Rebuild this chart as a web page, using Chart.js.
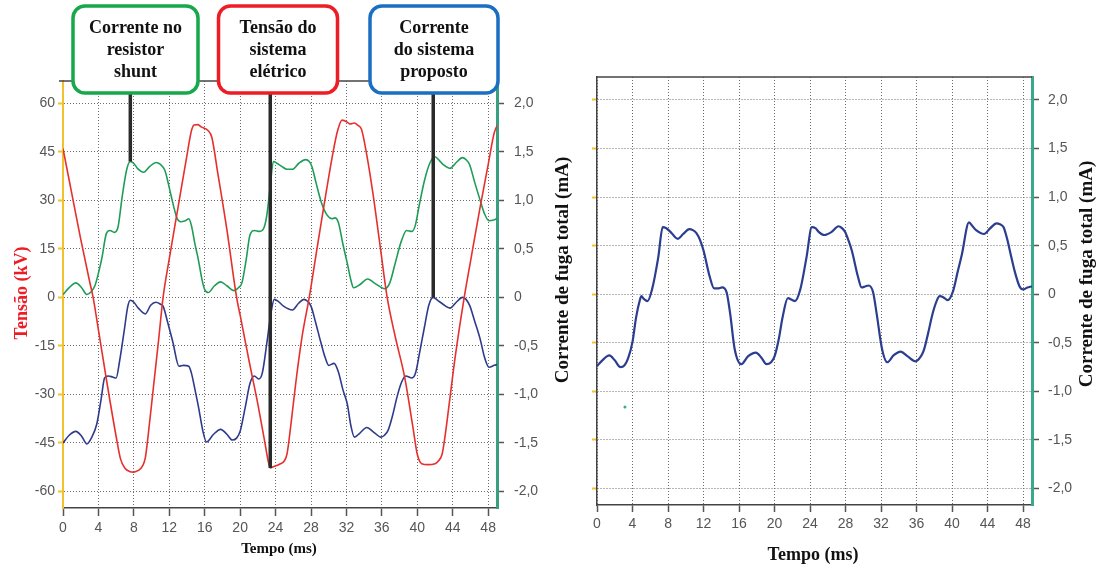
<!DOCTYPE html>
<html>
<head>
<meta charset="utf-8">
<script src="https://cdn.jsdelivr.net/npm/chart.js@4"></script>
<style>
  body { margin: 0; background: #fff; }
  #leftChart { position: absolute; left: 0; top: 0; }
  #rightChart { position: absolute; left: 575px; top: 0; }
</style>
</head>
<body>
<canvas id="leftChart" width="575" height="566"></canvas>
<canvas id="rightChart" width="530" height="566"></canvas>
<script>
// tick values
const timeTicks = [0, 4, 8, 12, 16, 20, 24, 28, 32, 36, 40, 44, 48];
const kvTicks = [-60, -45, -30, -15, 0, 15, 30, 45, 60];
const maTicks = [-2, -1.5, -1, -0.5, 0, 0.5, 1, 1.5, 2];

// Tensão do sistema elétrico (kV)
const tensaoT = [0,1,2,3,3.4,4,5,6,6.5,7,7.5,8,8.5,9,9.3,9.6,10.2,10.8,11.3,12,13,14,14.5,14.8,15.2,15.6,16.4,16.8,17.5,18.5,19.6,20,21,22,22.8,23.2,23.4,23.8,24.5,25,25.3,25.7,26.3,27,27.8,28.5,29.5,30.5,31,31.5,32.1,32.4,32.9,33.3,33.7,34.3,35,35.8,36.6,37.5,38.6,39.5,40,40.5,41.2,42,42.4,42.8,43.1,43.6,44.3,45.3,46,47.1,48,48.7,49.6];
const tensaoKV = [46,32,18,5,0,-10,-27,-43,-50,-52.8,-53.8,-54,-53.5,-52,-49.5,-43,-28,-13,0,12,28,44,51.5,53.3,53.4,52.7,51.5,49.5,38,21,0,-5.5,-19.5,-33,-45,-51,-52.7,-52.3,-51.5,-50.5,-48.3,-40,-26,-12,0,12,29,45,51.5,54.8,54.2,53.6,53.9,53.2,52,44,32,16,0,-12,-25,-40,-48.5,-51.4,-51.7,-51.4,-50.5,-48.5,-43.6,-33,-18,0,11,28,41,51,55.5];

// Corrente no resistor shunt (mA)
const shuntT = [0,0.7,1.45,2.1,2.7,3.2,3.6,4.0,4.4,4.9,5.3,5.8,6.2,6.7,7.2,7.6,8.0,8.4,9.1,9.8,10.5,11.0,11.5,11.9,12.2,12.9,13.3,13.8,14.2,14.5,14.9,15.3,15.7,16.0,16.4,17.1,17.8,18.5,19.3,19.8,20.2,20.7,21.1,21.6,22.2,22.7,23.0,23.4,23.75,24.2,24.7,25.3,25.9,26.6,27.4,27.8,28.1,28.6,29.2,29.8,30.4,30.7,31.1,31.6,32.1,32.5,32.8,33.5,34.4,35.3,36.3,36.9,37.5,38.2,38.8,39.4,39.8,40.2,40.8,41.4,42.0,42.5,42.9,43.7,44.4,45.1,45.5,45.9,46.5,47.1,47.6,48.1,48.7,49.2,49.6];
const shuntMA = [0.03,0.1,0.15,0.1,0.03,0.06,0.12,0.25,0.41,0.66,0.69,0.67,0.72,1.05,1.32,1.40,1.38,1.33,1.29,1.35,1.39,1.37,1.31,1.17,1.05,0.81,0.78,0.79,0.81,0.74,0.55,0.38,0.18,0.08,0.05,0.12,0.16,0.12,0.07,0.1,0.15,0.4,0.64,0.69,0.68,0.72,0.84,1.15,1.40,1.38,1.35,1.32,1.32,1.38,1.42,1.40,1.35,1.17,0.97,0.85,0.81,0.82,0.77,0.55,0.35,0.18,0.10,0.13,0.19,0.14,0.09,0.15,0.35,0.58,0.69,0.68,0.75,0.94,1.2,1.38,1.45,1.41,1.37,1.33,1.39,1.44,1.42,1.37,1.18,1.00,0.86,0.79,0.80,0.82,0.71];

// Corrente do sistema proposto (mA)
const propostoT = [0,0.7,1.45,2.1,2.7,3.2,3.8,4.3,4.7,5.1,5.6,6.0,6.4,6.9,7.3,7.6,8.0,8.5,9.3,9.9,10.5,11.0,11.3,11.8,12.4,13.1,13.6,14.2,14.5,14.9,15.3,15.8,16.2,17.0,17.8,18.5,19.1,19.6,20.0,20.6,21.1,21.6,22.1,22.5,23.0,23.5,23.85,24.3,24.9,25.9,26.6,27.2,27.6,28.0,28.5,29.1,29.6,30.0,30.6,31.1,31.6,32.1,32.5,32.9,33.5,34.3,35.1,35.9,36.3,36.7,37.2,37.7,38.2,38.7,39.4,39.8,40.3,40.8,41.3,41.8,42.3,42.9,43.7,44.4,45.1,45.5,45.9,46.5,47.1,47.6,48.1,48.7,49.2,49.6];
const propostoMA = [-1.5,-1.42,-1.38,-1.43,-1.51,-1.45,-1.31,-1.05,-0.83,-0.81,-0.82,-0.83,-0.65,-0.35,-0.1,-0.03,-0.05,-0.11,-0.17,-0.08,-0.05,-0.07,-0.09,-0.25,-0.46,-0.71,-0.70,-0.71,-0.78,-0.95,-1.13,-1.38,-1.49,-1.41,-1.36,-1.41,-1.47,-1.45,-1.38,-1.12,-0.89,-0.81,-0.84,-0.78,-0.48,-0.15,-0.02,-0.04,-0.09,-0.13,-0.06,-0.02,-0.04,-0.09,-0.25,-0.46,-0.62,-0.70,-0.68,-0.77,-0.95,-1.1,-1.32,-1.44,-1.4,-1.34,-1.39,-1.44,-1.42,-1.37,-1.22,-1.03,-0.88,-0.81,-0.83,-0.78,-0.55,-0.31,-0.08,0.0,-0.03,-0.07,-0.11,-0.05,0.0,-0.02,-0.08,-0.25,-0.43,-0.62,-0.72,-0.7,-0.69,-0.80];

// Corrente de fuga total, right chart (mA)
const totalT = [0,0.6,1.4,2.0,2.65,3.1,3.5,4.0,4.4,4.8,5.0,5.3,5.7,6.2,6.9,7.4,7.8,8.3,9.1,9.7,10.4,10.8,11.2,11.6,12.0,12.7,13.2,13.6,14.1,14.6,15.0,15.5,16.25,17.0,17.9,18.5,19.1,19.6,20.0,20.5,20.9,21.5,22.0,22.3,22.9,23.6,24.2,24.6,25.0,25.6,26.4,27.2,27.6,27.95,28.3,28.7,29.4,29.8,30.2,30.6,31.1,31.5,32.1,32.7,33.4,34.2,35.0,35.9,36.4,36.8,37.3,37.8,38.3,38.6,39.0,39.5,40.1,40.6,41.1,41.9,42.3,42.7,43.6,44.3,45.0,45.4,45.8,46.2,46.6,47.1,47.6,48.0,48.5,49.0,49.4,49.6];
const totalMA = [-0.74,-0.68,-0.63,-0.68,-0.75,-0.73,-0.66,-0.49,-0.24,-0.07,-0.02,-0.05,-0.07,0.05,0.38,0.69,0.68,0.64,0.57,0.62,0.67,0.66,0.63,0.56,0.45,0.18,0.06,0.06,0.07,0.02,-0.2,-0.56,-0.72,-0.64,-0.6,-0.65,-0.72,-0.7,-0.64,-0.45,-0.24,-0.04,-0.06,-0.07,0.05,0.38,0.69,0.68,0.64,0.61,0.64,0.70,0.68,0.64,0.56,0.45,0.18,0.07,0.08,0.09,0.02,-0.2,-0.56,-0.70,-0.63,-0.59,-0.64,-0.69,-0.65,-0.58,-0.4,-0.2,-0.06,-0.02,-0.03,-0.06,0.03,0.22,0.41,0.74,0.70,0.66,0.62,0.68,0.73,0.72,0.69,0.57,0.41,0.22,0.08,0.05,0.07,0.08,0.0,-0.05];

// stray green dot in the right chart
const strayT = [3.15];
const strayMA = [-1.16];

// callouts: label lines, which dataset they point at, and the time they point to
const calloutLabels = [
  ['Corrente no', 'resistor', 'shunt'],
  ['Tensão do', 'sistema', 'elétrico'],
  ['Corrente', 'do sistema', 'proposto']
];
const calloutSeries = [1, 0, 2];
const calloutTimes = [7.6, 23.4, 41.8];

const serif = '"Liberation Serif", "Times New Roman", serif';
const sans = '"Liberation Sans", Arial, sans-serif';
const gridGray = '#6f6f6f';
const gridDash = [1, 2];

function pts(ts, vs) {
  return ts.map((t, i) => ({ x: t, y: vs[i] }));
}
function maLabel(v) {
  return v === 0 ? '0' : v.toFixed(1).replace('.', ',');
}
function setTicks(list) {
  return s => { s.ticks = list.map(v => ({ value: v })); };
}
function vText(ctx, text, x, y, font, color) {
  ctx.save();
  ctx.translate(x, y);
  ctx.rotate(-Math.PI / 2);
  ctx.font = font;
  ctx.fillStyle = color;
  ctx.textAlign = 'center';
  ctx.textBaseline = 'middle';
  ctx.fillText(text, 0, 0);
  ctx.restore();
}
function roundBox(ctx, x, y, w, h, r) {
  ctx.beginPath();
  ctx.moveTo(x + r, y);
  ctx.lineTo(x + w - r, y);
  ctx.arcTo(x + w, y, x + w, y + r, r);
  ctx.lineTo(x + w, y + h - r);
  ctx.arcTo(x + w, y + h, x + w - r, y + h, r);
  ctx.lineTo(x + r, y + h);
  ctx.arcTo(x, y + h, x, y + h - r, r);
  ctx.lineTo(x, y + r);
  ctx.arcTo(x, y, x + r, y, r);
  ctx.closePath();
}

const tickFont = { family: sans, size: 14 };

const leftDecor = {
  id: 'leftDecor',
  afterDatasetsDraw(chart) {
    const { ctx, chartArea: a, scales } = chart;
    ctx.save();
    // top frame
    ctx.strokeStyle = '#444';
    ctx.lineWidth = 1.5;
    ctx.beginPath();
    ctx.moveTo(a.left - 4, a.top);
    ctx.lineTo(a.right, a.top);
    ctx.stroke();

    const boxes = [
      { cx: 135.5, w: 125, color: '#16a84b' },
      { cx: 278, w: 119, color: '#ee1c24' },
      { cx: 434, w: 128, color: '#1b6fc2' }
    ];
    const boxTop = 6, boxBottom = 93;

    // pointer lines from each box down to its curve
    calloutTimes.forEach((t, i) => {
      const ds = chart.data.datasets[calloutSeries[i]];
      let p = ds.data[0];
      ds.data.forEach(d => { if (Math.abs(d.x - t) < Math.abs(p.x - t)) p = d; });
      const px = scales.x.getPixelForValue(p.x);
      const py = scales[ds.yAxisID].getPixelForValue(p.y);
      ctx.strokeStyle = '#2a2a2a';
      ctx.lineWidth = 3.5;
      ctx.beginPath();
      ctx.moveTo(px, boxBottom - 2);
      ctx.lineTo(px, py);
      ctx.stroke();
    });

    // boxes with labels
    boxes.forEach((b, i) => {
      roundBox(ctx, b.cx - b.w / 2, boxTop, b.w, boxBottom - boxTop, 12);
      ctx.fillStyle = '#fff';
      ctx.fill();
      ctx.strokeStyle = b.color;
      ctx.lineWidth = 3.5;
      ctx.stroke();
      ctx.fillStyle = '#111';
      ctx.font = 'bold 18px ' + serif;
      ctx.textAlign = 'center';
      ctx.textBaseline = 'middle';
      calloutLabels[i].forEach((line, j) => {
        ctx.fillText(line, b.cx, 28 + j * 22);
      });
    });
    ctx.restore();
  },
  afterDraw(chart) {
    const { ctx } = chart;
    vText(ctx, 'Tensão (kV)', 22, 293, 'bold 18px ' + serif, '#ee1c24');
    vText(ctx, 'Corrente de fuga total (mA)', 563, 270, 'bold 19px ' + serif, '#111');
    ctx.save();
    ctx.font = 'bold 15px ' + serif;
    ctx.fillStyle = '#111';
    ctx.textAlign = 'center';
    ctx.textBaseline = 'middle';
    ctx.fillText('Tempo (ms)', 279, 549);
    ctx.restore();
  }
};

const rightDecor = {
  id: 'rightDecor',
  afterDatasetsDraw(chart) {
    const { ctx, chartArea: a } = chart;
    ctx.save();
    ctx.strokeStyle = '#444';
    ctx.lineWidth = 1.5;
    ctx.beginPath();
    ctx.moveTo(a.left, a.top);
    ctx.lineTo(a.right, a.top);
    ctx.stroke();
    ctx.restore();
  },
  afterDraw(chart) {
    const { ctx } = chart;
    vText(ctx, 'Corrente de fuga total (mA)', 512, 274, 'bold 19px ' + serif, '#111');
    ctx.save();
    ctx.font = 'bold 18px ' + serif;
    ctx.fillStyle = '#111';
    ctx.textAlign = 'center';
    ctx.textBaseline = 'middle';
    ctx.fillText('Tempo (ms)', 238, 555);
    ctx.restore();
  }
};

const lineStyle = {
  pointRadius: 0,
  fill: false,
  cubicInterpolationMode: 'monotone'
};

new Chart(document.getElementById('leftChart'), {
  type: 'line',
  data: {
    datasets: [
      { ...lineStyle, label: 'Tensão do sistema elétrico', data: pts(tensaoT, tensaoKV), yAxisID: 'y', borderColor: '#e5302d', borderWidth: 1.6 },
      { ...lineStyle, label: 'Corrente no resistor shunt', data: pts(shuntT, shuntMA), yAxisID: 'y1', borderColor: '#1f9d57', borderWidth: 1.6 },
      { ...lineStyle, label: 'Corrente do sistema proposto', data: pts(propostoT, propostoMA), yAxisID: 'y1', borderColor: '#2e3a8c', borderWidth: 1.6 }
    ]
  },
  options: {
    responsive: false,
    animation: false,
    layout: { padding: { top: 81, left: 0, right: 0, bottom: 0 } },
    plugins: { legend: { display: false }, tooltip: { enabled: false } },
    scales: {
      x: {
        type: 'linear', min: 0, max: 49,
        afterBuildTicks: setTicks(timeTicks),
        afterFit: s => { s.height = 58; },
        ticks: { color: '#555', font: tickFont, padding: 4, maxRotation: 0, autoSkip: false, callback: v => String(v) },
        grid: { color: gridGray, lineWidth: 1, tickLength: 8, tickColor: '#555', tickWidth: 1.5, tickBorderDash: [] },
        border: { color: '#444', width: 1.5, dash: gridDash }
      },
      y: {
        type: 'linear', position: 'left', min: -65.1, max: 66.9,
        afterBuildTicks: setTicks(kvTicks),
        afterFit: s => { s.width = 63; },
        ticks: { color: '#555', font: tickFont, padding: 3, autoSkip: false },
        grid: { color: gridGray, lineWidth: 1, tickLength: 5, tickColor: '#f2c12e', tickWidth: 2, tickBorderDash: [] },
        border: { color: '#f2c12e', width: 2, dash: gridDash }
      },
      y1: {
        type: 'linear', position: 'right', min: -2.17, max: 2.23,
        afterBuildTicks: setTicks(maTicks),
        afterFit: s => { s.width = 78; },
        ticks: { color: '#555', font: tickFont, padding: 10, autoSkip: false, callback: maLabel },
        grid: { drawOnChartArea: false, tickLength: 7, tickColor: '#555', tickWidth: 1.5 },
        border: { color: '#3a9f7e', width: 3 }
      }
    }
  },
  plugins: [leftDecor]
});

new Chart(document.getElementById('rightChart'), {
  type: 'line',
  data: {
    datasets: [
      { ...lineStyle, label: 'Corrente de fuga total', data: pts(totalT, totalMA), yAxisID: 'y', borderColor: '#2b3d8f', borderWidth: 2.2 },
      { label: 'ponto', data: pts(strayT, strayMA), yAxisID: 'y', showLine: false, pointRadius: 1.5, pointBorderWidth: 0, pointBackgroundColor: '#2fb37a' }
    ]
  },
  options: {
    responsive: false,
    animation: false,
    layout: { padding: { top: 77, left: 0, right: 0, bottom: 0 } },
    plugins: { legend: { display: false }, tooltip: { enabled: false } },
    scales: {
      x: {
        type: 'linear', min: 0, max: 49,
        afterBuildTicks: setTicks(timeTicks),
        afterFit: s => { s.height = 61; },
        ticks: { color: '#555', font: tickFont, padding: 4, maxRotation: 0, autoSkip: false, callback: v => String(v) },
        grid: { color: gridGray, lineWidth: 1, tickLength: 7, tickColor: '#555', tickWidth: 1.5, tickBorderDash: [] },
        border: { color: '#444', width: 1.5, dash: gridDash }
      },
      yl: {
        type: 'linear', position: 'left', min: -2.169, max: 2.236,
        afterBuildTicks: setTicks(maTicks),
        afterFit: s => { s.width = 22; },
        ticks: { display: false },
        grid: { color: gridGray, lineWidth: 1, tickLength: 5, tickColor: '#f2c12e', tickWidth: 2, tickBorderDash: [] },
        border: { color: '#444', width: 1.5, dash: gridDash }
      },
      y: {
        type: 'linear', position: 'right', min: -2.169, max: 2.236,
        afterBuildTicks: setTicks(maTicks),
        afterFit: s => { s.width = 73; },
        ticks: { color: '#555', font: tickFont, padding: 9, autoSkip: false, callback: maLabel },
        grid: { drawOnChartArea: false, tickLength: 7, tickColor: '#555', tickWidth: 1.5 },
        border: { color: '#3aa98a', width: 3 }
      }
    }
  },
  plugins: [rightDecor]
});
</script>
</body>
</html>
